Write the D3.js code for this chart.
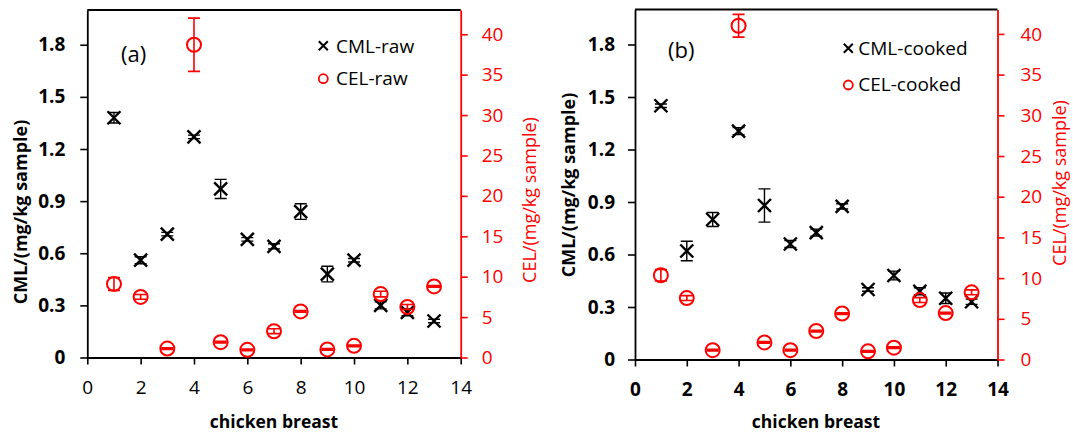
<!DOCTYPE html>
<html>
<head>
<meta charset="utf-8">
<script src="https://cdn.jsdelivr.net/npm/d3@7"></script>
<style>
  html, body { margin: 0; padding: 0; background: #fff; }
  svg { display: block; font-family: "Open Sans", sans-serif; }
</style>
</head>
<body>
<svg id="chart" width="1073" height="437"></svg>
<script>
// ---------- DATA ----------
const samples = [1, 2, 3, 4, 5, 6, 7, 8, 9, 10, 11, 12, 13];

const cmlRaw    = [1.38, 0.56, 0.71, 1.27, 0.97, 0.68, 0.64, 0.84, 0.48, 0.56, 0.30, 0.26, 0.21];
const cmlRawErr = [0.03, 0.02, 0.01, 0.01, 0.055, 0.01, 0.015, 0.045, 0.045, 0.01, 0.02, 0.02, 0.01];
const celRaw    = [9.1, 7.5, 1.1, 38.7, 1.9, 0.95, 3.25, 5.7, 1.0, 1.45, 7.85, 6.25, 8.8];
const celRawErr = [0.8, 0.3, 0.1, 3.3, 0.1, 0.1, 0.3, 0.1, 0.1, 0.1, 0.35, 0.3, 0.1];

const cmlCooked    = [1.45, 0.62, 0.80, 1.305, 0.88, 0.66, 0.725, 0.875, 0.40, 0.48, 0.39, 0.35, 0.33];
const cmlCookedErr = [0.01, 0.056, 0.04, 0.02, 0.095, 0.02, 0.02, 0.015, 0.01, 0.025, 0.02, 0.03, 0.015];
const celCooked    = [10.35, 7.55, 1.15, 41.0, 2.1, 1.15, 3.5, 5.65, 1.0, 1.45, 7.3, 5.7, 8.25];
const celCookedErr = [0.7, 0.3, 0.1, 1.4, 0.1, 0.1, 0.1, 0.1, 0.1, 0.1, 0.3, 0.1, 0.3];

const xTicks = [0, 2, 4, 6, 8, 10, 12, 14];
const cmlTicks = [0, 0.3, 0.6, 0.9, 1.2, 1.5, 1.8];
const cmlTickLabels = ["0", "0.3", "0.6", "0.9", "1.2", "1.5", "1.8"];
const celTicks = [0, 5, 10, 15, 20, 25, 30, 35, 40];

const xDomain = [0, 14];
const cmlDomain = [0, 2.0];
const celDomain = [0, 43];

const panelLabels = ["(a)", "(b)"];
const legendCml = ["CML-raw", "CML-cooked"];
const legendCel = ["CEL-raw", "CEL-cooked"];
const xTitle = "chicken breast";
const yLeftTitle = "CML/(mg/kg sample)";
const yRightTitle = "CEL/(mg/kg sample)";

// ---------- LAYOUT ----------
const RED = "#ff0000";
const svg = d3.select("#chart");

const panels = [
  { left: 87.3, right: 460.7, top: 10, bottom: 357.5,
    cml: cmlRaw, cmlErr: cmlRawErr, cel: celRaw, celErr: celRawErr,
    label: panelLabels[0], labelPos: [121, 62],
    legCml: legendCml[0], legCel: legendCel[0],
    legX: 323.3, legY1: 45.7, legY2: 78.7, legTextX: 336, legBase1: 52.7, legBase2: 85,
    xBold: false,
    yLeftTitlePos: [20, 212], yRightTitlePos: [529, 200], xTitlePos: [274, 427.7],
    leftPad: 15, rightPad: 14, xPad: 16.5 },
  { left: 635, right: 997.5, top: 9.5, bottom: 359.5,
    cml: cmlCooked, cmlErr: cmlCookedErr, cel: celCooked, celErr: celCookedErr,
    label: panelLabels[1], labelPos: [668, 58],
    legCml: legendCml[1], legCel: legendCel[1],
    legX: 848.3, legY1: 48.3, legY2: 85, legTextX: 858.3, legBase1: 55, legBase2: 90.7,
    xBold: true,
    yLeftTitlePos: [567.5, 185], yRightTitlePos: [1059, 183], xTitlePos: [816, 428],
    leftPad: 13, rightPad: 16, xPad: 16 }
];

function crossPath(cx, cy, h) {
  return `M${cx - h},${cy - h}L${cx + h},${cy + h}M${cx - h},${cy + h}L${cx + h},${cy - h}`;
}

panels.forEach(p => {
  const g = svg.append("g");
  const x = d3.scaleLinear().domain(xDomain).range([p.left, p.right]);
  const yL = d3.scaleLinear().domain(cmlDomain).range([p.bottom, p.top]);
  const yR = d3.scaleLinear().domain(celDomain).range([p.bottom, p.top]);

  // top border
  g.append("line").attr("x1", p.left).attr("x2", p.right)
    .attr("y1", p.top).attr("y2", p.top)
    .attr("stroke", "#000").attr("stroke-width", 1.8);

  // bottom axis
  const xAxis = g.append("g").attr("transform", `translate(0,${p.bottom})`)
    .call(d3.axisBottom(x).tickValues(xTicks).tickFormat(d3.format("d"))
      .tickSize(7).tickSizeOuter(0).tickPadding(p.xPad));
  xAxis.select(".domain").attr("stroke", "#000").attr("stroke-width", 1.8);
  xAxis.selectAll(".tick line").attr("stroke", "#000").attr("stroke-width", 1.6);
  xAxis.selectAll(".tick text").attr("fill", "#000")
    .style("font-family", "'Open Sans', sans-serif").style("font-size", "19px")
    .style("font-weight", p.xBold ? "700" : "400");

  // left axis
  const lAxis = g.append("g").attr("transform", `translate(${p.left},0)`)
    .call(d3.axisLeft(yL).tickValues(cmlTicks).tickFormat((d, i) => cmlTickLabels[i])
      .tickSize(7).tickSizeOuter(0).tickPadding(p.leftPad));
  lAxis.select(".domain").attr("stroke", "#000").attr("stroke-width", 1.8);
  lAxis.selectAll(".tick line").attr("stroke", "#000").attr("stroke-width", 1.6);
  lAxis.selectAll(".tick text").attr("fill", "#000")
    .style("font-family", "'Open Sans', sans-serif").style("font-size", "19px").style("font-weight", "700");

  // right axis
  const rAxis = g.append("g").attr("transform", `translate(${p.right},0)`)
    .call(d3.axisRight(yR).tickValues(celTicks).tickFormat(d3.format("d"))
      .tickSize(7).tickSizeOuter(0).tickPadding(p.rightPad));
  rAxis.select(".domain").attr("stroke", RED).attr("stroke-width", 1.8);
  rAxis.selectAll(".tick line").attr("stroke", RED).attr("stroke-width", 1.6);
  rAxis.selectAll(".tick text").attr("fill", RED)
    .style("font-family", "'Open Sans', sans-serif").style("font-size", "19px").style("font-weight", "400");

  // axis titles
  g.append("text").text(yLeftTitle)
    .attr("transform", `translate(${p.yLeftTitlePos[0]},${p.yLeftTitlePos[1]}) rotate(-90)`)
    .attr("text-anchor", "middle").attr("dominant-baseline", "central")
    .style("font-size", "18px").style("font-weight", "700").attr("fill", "#000");
  g.append("text").text(yRightTitle)
    .attr("transform", `translate(${p.yRightTitlePos[0]},${p.yRightTitlePos[1]}) rotate(-90)`)
    .attr("text-anchor", "middle").attr("dominant-baseline", "central")
    .style("font-size", "18px").style("font-weight", "400").attr("fill", RED);
  g.append("text").text(xTitle)
    .attr("x", p.xTitlePos[0]).attr("y", p.xTitlePos[1])
    .attr("text-anchor", "middle")
    .style("font-size", "17.5px").style("font-weight", "700").attr("fill", "#000");

  // panel label
  g.append("text").text(p.label)
    .attr("x", p.labelPos[0]).attr("y", p.labelPos[1])
    .style("font-size", "22px").attr("fill", "#000");

  // CML series (black x with error bars)
  const cmlG = g.append("g");
  samples.forEach((s, i) => {
    const cx = x(s), cy = yL(p.cml[i]);
    const y1 = yL(p.cml[i] + p.cmlErr[i]), y2 = yL(p.cml[i] - p.cmlErr[i]);
    cmlG.append("path")
      .attr("d", `M${cx},${y1}L${cx},${y2}M${cx - 6},${y1}L${cx + 6},${y1}M${cx - 6},${y2}L${cx + 6},${y2}`)
      .attr("stroke", "#000").attr("stroke-width", 1.4).attr("fill", "none");
    cmlG.append("path").attr("d", crossPath(cx, cy, 6.5))
      .attr("stroke", "#000").attr("stroke-width", 2.4).attr("fill", "none");
  });

  // CEL series (red open circles with error bars)
  const celG = g.append("g");
  samples.forEach((s, i) => {
    const cx = x(s), cy = yR(p.cel[i]);
    const y1 = yR(p.cel[i] + p.celErr[i]), y2 = yR(p.cel[i] - p.celErr[i]);
    celG.append("path")
      .attr("d", `M${cx},${y1}L${cx},${y2}M${cx - 6},${y1}L${cx + 6},${y1}M${cx - 6},${y2}L${cx + 6},${y2}`)
      .attr("stroke", RED).attr("stroke-width", 1.6).attr("fill", "none");
    celG.append("circle").attr("cx", cx).attr("cy", cy).attr("r", 7)
      .attr("stroke", RED).attr("stroke-width", 2).attr("fill", "none");
  });

  // legend
  g.append("path").attr("d", crossPath(p.legX, p.legY1, 4.5))
    .attr("stroke", "#000").attr("stroke-width", 2).attr("fill", "none");
  g.append("text").text(p.legCml).attr("x", p.legTextX).attr("y", p.legBase1)
    .style("font-size", "19px").attr("fill", "#000");
  g.append("circle").attr("cx", p.legX).attr("cy", p.legY2).attr("r", 4.5)
    .attr("stroke", RED).attr("stroke-width", 1.8).attr("fill", "none");
  g.append("text").text(p.legCel).attr("x", p.legTextX).attr("y", p.legBase2)
    .style("font-size", "19px").attr("fill", "#000");
});
</script>
</body>
</html>
